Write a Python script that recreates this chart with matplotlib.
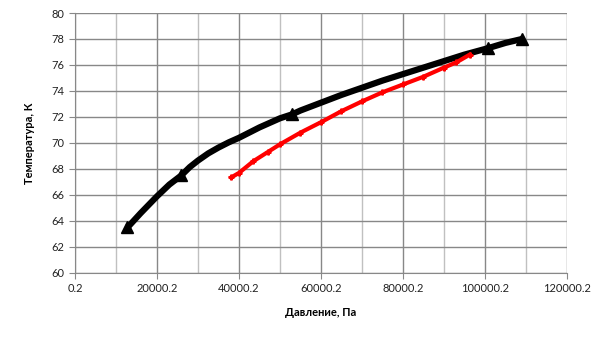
import matplotlib
matplotlib.use("Agg")
import matplotlib.pyplot as plt
from matplotlib.ticker import FixedLocator, FuncFormatter

plt.rcParams['font.family'] = ['Lato', 'DejaVu Sans']

# Black curve
black_p = [12800, 16000, 20000, 23000, 25900, 28000, 30000, 32500, 35000, 37500,
           40000, 45000, 50000, 52900, 55000, 60000, 65000, 70000, 75000, 80000,
           85000, 90000, 95000, 100800, 105000, 109000]
black_t = [63.5, 64.6, 65.9, 66.8, 67.5, 68.15, 68.65, 69.2, 69.65, 70.05,
           70.4, 71.2, 71.9, 72.2, 72.5, 73.1, 73.7, 74.25, 74.8, 75.3,
           75.8, 76.3, 76.8, 77.3, 77.7, 78.0]
# Triangle markers on black curve
tri_p = [12800, 25900, 52900, 100800, 109000]
tri_t = [63.5, 67.5, 72.2, 77.3, 78.0]
# Red curve
red_p = [38100, 40000, 43500, 47000, 50000, 55000, 60000, 65000, 70000,
         75000, 80000, 85000, 90000, 93000, 96300]
red_t = [67.35, 67.7, 68.6, 69.3, 69.9, 70.8, 71.6, 72.45, 73.2,
         73.9, 74.5, 75.1, 75.8, 76.2, 76.8]

x_ticks = [0.2, 20000.2, 40000.2, 60000.2, 80000.2, 100000.2, 120000.2]
x_minor = [10000.2, 30000.2, 50000.2, 70000.2, 90000.2, 110000.2]
y_ticks = list(range(60, 81, 2))

fig = plt.figure(figsize=(6.05, 3.4), dpi=100)
ax = fig.add_axes([75/605, 1-273/340, (567-75)/605, (273-13)/340])

ax.plot(black_p, black_t, color='black', lw=4.5, solid_capstyle='butt', zorder=3)
ax.plot(tri_p, tri_t, linestyle='none', marker='^', color='black', ms=8, zorder=4)
ax.plot(red_p, red_t, color='#ff0000', lw=3, marker='P', ms=3.5, zorder=3)

ax.set_xlim(0.2, 120000.2)
ax.set_ylim(60, 80)
ax.xaxis.set_major_locator(FixedLocator(x_ticks))
ax.xaxis.set_minor_locator(FixedLocator(x_minor))
ax.yaxis.set_major_locator(FixedLocator(y_ticks))
ax.xaxis.set_major_formatter(FuncFormatter(lambda v, p: f"{v:.1f}"))
ax.yaxis.set_major_formatter(FuncFormatter(lambda v, p: f"{v:.0f}"))

ax.grid(which='major', color='#888888', lw=1)
ax.grid(which='minor', axis='x', color='#c0c0c0', lw=1)
ax.set_axisbelow(True)
for s in ['top', 'right']:
    ax.spines[s].set_visible(False)
for s in ['left', 'bottom']:
    ax.spines[s].set_color('#888888')
ax.tick_params(which='major', length=4, color='#888888', labelsize=8, labelcolor='#222222')
ax.tick_params(which='minor', length=0)

ax.set_xlabel('Давление, Па', fontsize=8, fontweight='bold', labelpad=9)
ax.set_ylabel('Температура, К', fontsize=8, fontweight='bold', labelpad=12)

fig.savefig('out.png', dpi=100)
